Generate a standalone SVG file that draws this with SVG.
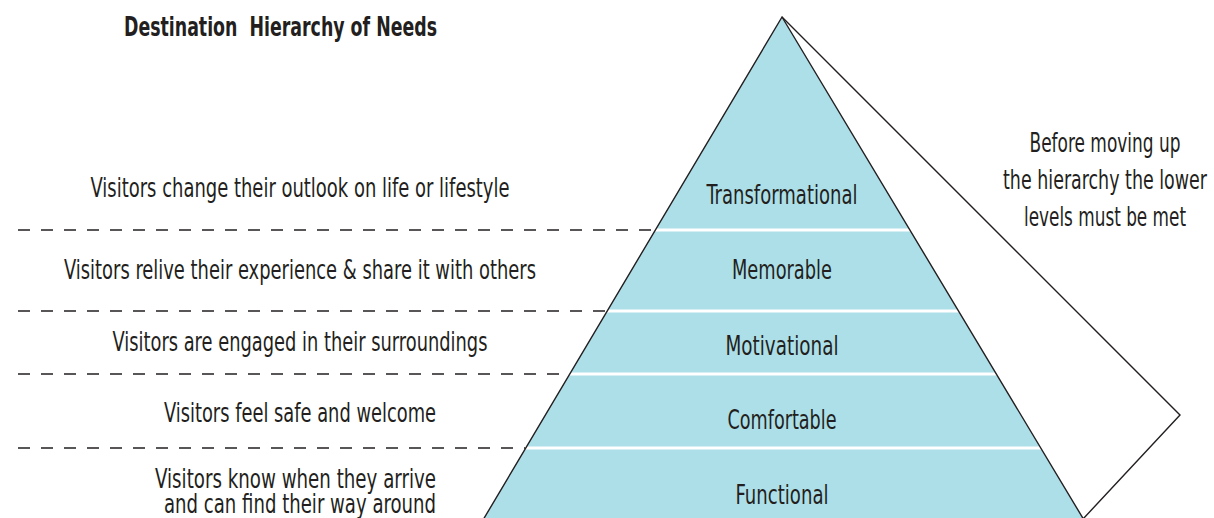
<svg xmlns="http://www.w3.org/2000/svg" width="1214" height="518" viewBox="0 0 1214 518">
<style>
text{font-family:"Liberation Sans Narrow","DejaVu Sans Condensed","Liberation Sans",sans-serif;fill:#231f20;font-size:26px}
.c{text-anchor:middle}
.e{text-anchor:end}
.t{font-weight:bold;font-size:27px}
.dash{stroke:#231f20;stroke-width:1.6;stroke-dasharray:12 11;fill:none}
.sep{stroke:#ffffff;stroke-width:3}
.edge{stroke:#231f20;stroke-width:1.4;fill:none}
</style>
<rect width="1214" height="518" fill="#ffffff"/>
<text class="t" x="124" y="36" textLength="313" lengthAdjust="spacingAndGlyphs">Destination&#160; Hierarchy of Needs</text>
<g id="connectors">
<line class="dash" x1="18" y1="230" x2="655" y2="230"/>
<line class="dash" x1="18" y1="311" x2="607" y2="311"/>
<line class="dash" x1="18" y1="374" x2="569" y2="374"/>
<line class="dash" x1="18" y1="448" x2="525" y2="448"/>
<polyline class="edge" points="782,17 1180,415 1083,519"/>
</g>
<g id="pyramid">
<polygon points="782,17 1084,520 483,520" fill="#addfe9"/>
<line class="sep" x1="655" y1="230" x2="910" y2="230"/>
<line class="sep" x1="607" y1="311" x2="959" y2="311"/>
<line class="sep" x1="569" y1="374" x2="997" y2="374"/>
<line class="sep" x1="525" y1="448" x2="1041" y2="448"/>
<polyline class="edge" points="483,520 782,17 1084,520"/>
</g>
<g id="transformational"><text class="c" x="782" y="204" textLength="151" lengthAdjust="spacingAndGlyphs">Transformational</text>
<text class="c" x="300" y="197" textLength="419" lengthAdjust="spacingAndGlyphs">Visitors change their outlook on life or lifestyle</text></g>
<g id="memorable"><text class="c" x="782" y="279" textLength="100" lengthAdjust="spacingAndGlyphs">Memorable</text>
<text class="c" x="300" y="279" textLength="472" lengthAdjust="spacingAndGlyphs">Visitors relive their experience &amp; share it with others</text></g>
<g id="motivational"><text class="c" x="782" y="355" textLength="113" lengthAdjust="spacingAndGlyphs">Motivational</text>
<text class="c" x="300" y="351" textLength="375" lengthAdjust="spacingAndGlyphs">Visitors are engaged in their surroundings</text></g>
<g id="comfortable"><text class="c" x="782" y="429" textLength="109" lengthAdjust="spacingAndGlyphs">Comfortable</text>
<text class="e" x="436" y="422" textLength="272" lengthAdjust="spacingAndGlyphs">Visitors feel safe and welcome</text></g>
<g id="functional"><text class="c" x="782" y="504" textLength="93" lengthAdjust="spacingAndGlyphs">Functional</text>
<text class="e" x="436" y="488" textLength="281" lengthAdjust="spacingAndGlyphs">Visitors know when they arrive</text>
<text class="e" x="436" y="513" textLength="272" lengthAdjust="spacingAndGlyphs">and can find their way around</text></g>
<g id="note">
<text class="c" x="1105" y="152" textLength="151" lengthAdjust="spacingAndGlyphs">Before moving up</text>
<text class="c" x="1105" y="189" textLength="204" lengthAdjust="spacingAndGlyphs">the hierarchy the lower</text>
<text class="c" x="1105" y="226" textLength="162" lengthAdjust="spacingAndGlyphs">levels must be met</text>
</g>
</svg>
